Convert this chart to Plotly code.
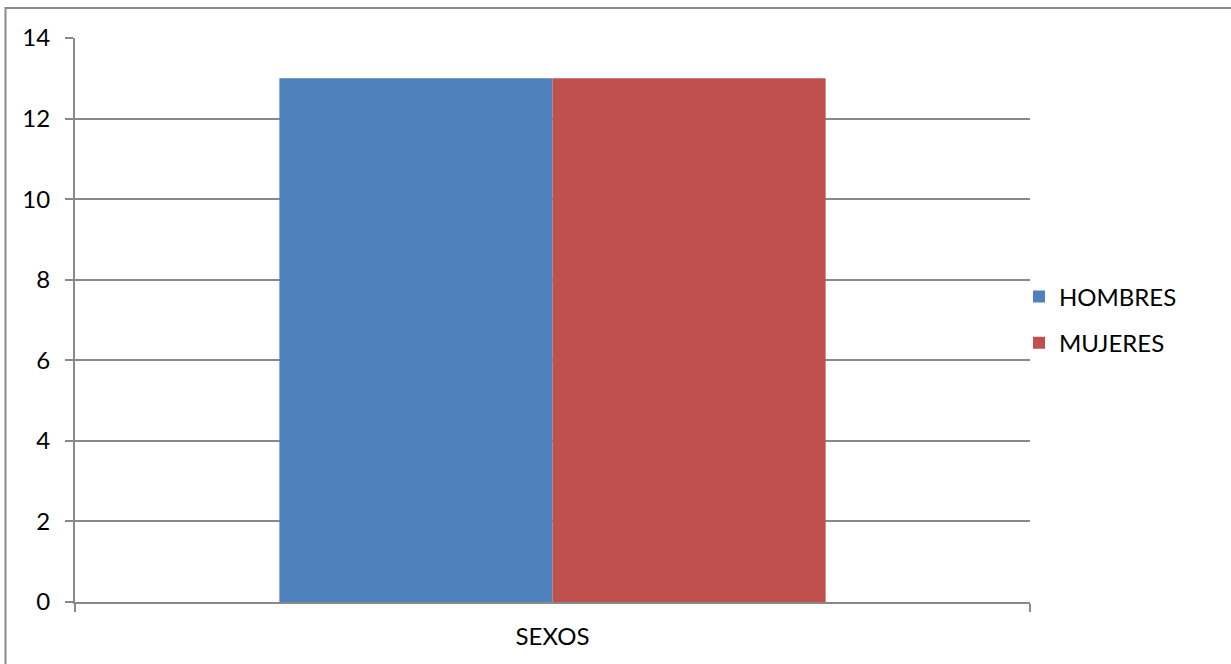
import plotly.graph_objects as go

# Chart data
categories = ["SEXOS"]
series_names = ["HOMBRES", "MUJERES"]
hombres = [13]
mujeres = [13]
y_ticks = [0, 2, 4, 6, 8, 10, 12, 14]

colors = {"HOMBRES": "#4F81BD", "MUJERES": "#C0504D"}
values = {"HOMBRES": hombres, "MUJERES": mujeres}

W, H = 1231, 664
L, R, T, B = 75, 201, 38, 62
FONT = "Lato, 'Liberation Sans', Arial, sans-serif"
GRAY = "#898989"

fig = go.Figure()
for name in series_names:
    fig.add_trace(go.Bar(
        x=categories, y=values[name], name=name,
        marker=dict(color=colors[name], line=dict(width=0)),
        legendgroup=name,
    ))

plot_w = W - L - R
plot_h = H - T - B

def px_to_paper_x(px):
    return (px - L) / plot_w

def px_to_paper_y(py):
    return (H - B - py) / plot_h

fig.update_layout(
    width=W, height=H,
    margin=dict(l=L, r=R, t=T, b=B, pad=0),
    paper_bgcolor="white", plot_bgcolor="white",
    barmode="group", bargap=0.428, bargroupgap=0,
    font=dict(family=FONT, size=24, color="#000000"),
    showlegend=True,
    legend=dict(
        x=px_to_paper_x(1019), xanchor="left",
        y=px_to_paper_y(320), yanchor="middle",
        font=dict(family=FONT, size=24, color="#000000"),
        tracegroupgap=12, traceorder="grouped",
        itemwidth=30, bgcolor="rgba(0,0,0,0)",
    ),
    xaxis=dict(
        type="category", tickson="boundaries",
        showline=True, linecolor=GRAY, linewidth=2,
        ticks="outside", ticklen=8, tickcolor=GRAY, tickwidth=2,
        showgrid=False, ticklabelstandoff=12,
        tickfont=dict(family=FONT, size=24),
    ),
    yaxis=dict(
        range=[0, 14], tickvals=y_ticks,
        showline=True, linecolor=GRAY, linewidth=2,
        ticks="outside", ticklen=8, tickcolor=GRAY, tickwidth=2,
        showgrid=True, gridcolor=GRAY, gridwidth=1.5,
        zeroline=False, ticklabelstandoff=10,
        tickfont=dict(family=FONT, size=24),
    ),
    shapes=[dict(
        type="rect", xref="paper", yref="paper",
        x0=px_to_paper_x(5.5), x1=px_to_paper_x(W + 20),
        y0=px_to_paper_y(H + 20), y1=px_to_paper_y(8),
        line=dict(color=GRAY, width=2), fillcolor="rgba(0,0,0,0)",
        layer="below",
    )],
)

fig.write_html("out.html")
